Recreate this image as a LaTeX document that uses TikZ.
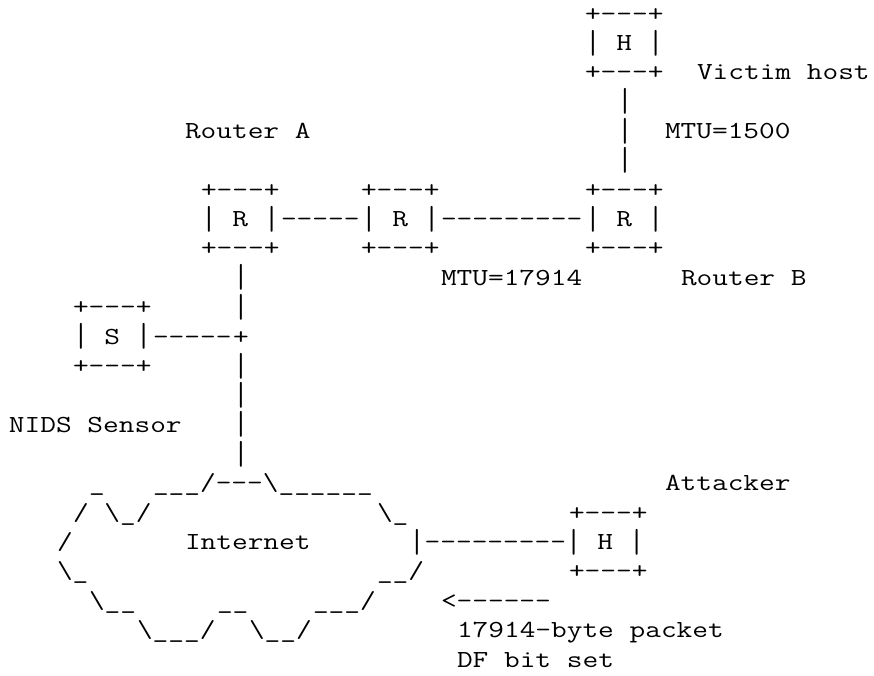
\documentclass[tikz,border=0pt]{standalone}
\usepackage{graphicx}
\newcommand\dashch{-\kern0pt }
\newcommand\bsl{\textbackslash\kern0pt }
\newcommand\usc{\_\kern0pt }
\newcommand\vbar{\raisebox{-2.6pt}{\scalebox{1}[1.36]{|}}\kern0pt }
\newcommand\seg[4]{\node[asc] (#1) at ({9+16*#2},{-21.1-29.36*#3}) {\scalebox{1.244}[1]{#4}};}
\tikzset{asc/.style={anchor=base west, inner sep=0pt, outer sep=0pt, text=black,
  font=\ttfamily\fontsize{24.5}{29}\selectfont}}
\begin{document}
\begin{tikzpicture}[x=1pt,y=1pt]
\fill[white] (0,0) rectangle (874,-675);
\useasboundingbox (0,0) rectangle (874,-675);
% victim host
\seg{vtop}{36}{0}{+\dashch\dashch\dashch+}
\seg{vmid}{36}{1}{\vbar{} H \vbar}
\seg{vbot}{36}{2}{+\dashch\dashch\dashch+}
\seg{vlabel}{43}{2}{Victim host}
\seg{vl1}{38}{3}{\vbar}
\seg{ralabel}{11}{4}{Router A}
\seg{vl2}{38}{4}{\vbar}
\seg{mtu1}{41}{4}{MTU=1500}
\seg{vl3}{38}{5}{\vbar}
% routers
\seg{ratop}{12}{6}{+\dashch\dashch\dashch+}
\seg{rmtop}{22}{6}{+\dashch\dashch\dashch+}
\seg{rbtop}{36}{6}{+\dashch\dashch\dashch+}
\seg{ramid}{12}{7}{\vbar{} R \vbar}
\seg{l1}{17}{7}{\dashch\dashch\dashch\dashch\dashch}
\seg{rmmid}{22}{7}{\vbar{} R \vbar}
\seg{l2}{27}{7}{\dashch\dashch\dashch\dashch\dashch\dashch\dashch\dashch\dashch}
\seg{rbmid}{36}{7}{\vbar{} R \vbar}
\seg{rabot}{12}{8}{+\dashch\dashch\dashch+}
\seg{rmbot}{22}{8}{+\dashch\dashch\dashch+}
\seg{rbbot}{36}{8}{+\dashch\dashch\dashch+}
\seg{vr1}{14}{9}{\vbar}
\seg{mtu2}{27}{9}{MTU=17914}
\seg{rblabel}{42}{9}{Router B}
% sensor
\seg{stop}{4}{10}{+\dashch\dashch\dashch+}
\seg{vr2}{14}{10}{\vbar}
\seg{smid}{4}{11}{\vbar{} S \vbar}
\seg{sl}{9}{11}{\dashch\dashch\dashch\dashch\dashch}
\seg{tee}{14}{11}{+}
\seg{sbot}{4}{12}{+\dashch\dashch\dashch+}
\seg{vr3}{14}{12}{\vbar}
\seg{vr4}{14}{13}{\vbar}
\seg{slabel}{0}{14}{NIDS Sensor}
\seg{vr5}{14}{14}{\vbar}
\seg{vr6}{14}{15}{\vbar}
% cloud
\seg{c16a}{5}{16}{\usc}
\seg{c16b}{9}{16}{\usc\usc\usc/\dashch\dashch\dashch\bsl\usc\usc\usc\usc\usc\usc}
\seg{alabel}{41}{16}{Attacker}
\seg{c17a}{4}{17}{/ \bsl\usc/}
\seg{c17b}{23}{17}{\bsl\usc}
\seg{atop}{35}{17}{+\dashch\dashch\dashch+}
\seg{c18a}{3}{18}{/}
\seg{inet}{11}{18}{Internet}
\seg{alink}{25}{18}{\vbar\dashch\dashch\dashch\dashch\dashch\dashch\dashch\dashch\dashch\vbar{} H \vbar}
\seg{c19a}{3}{19}{\bsl\usc}
\seg{c19b}{23}{19}{\usc\usc/}
\seg{abot}{35}{19}{+\dashch\dashch\dashch+}
\seg{c20a}{5}{20}{\bsl\usc\usc}
\seg{c20b}{13}{20}{\usc\usc}
\seg{c20c}{19}{20}{\usc\usc\usc/}
\seg{arrow}{27}{20}{<\dashch\dashch\dashch\dashch\dashch\dashch}
\seg{c21a}{8}{21}{\bsl\usc\usc\usc/}
\seg{c21b}{15}{21}{\bsl\usc\usc/}
\seg{pk1}{28}{21}{17914-byte packet}
\seg{pk2}{28}{22}{DF bit set}
\end{tikzpicture}
\end{document}
